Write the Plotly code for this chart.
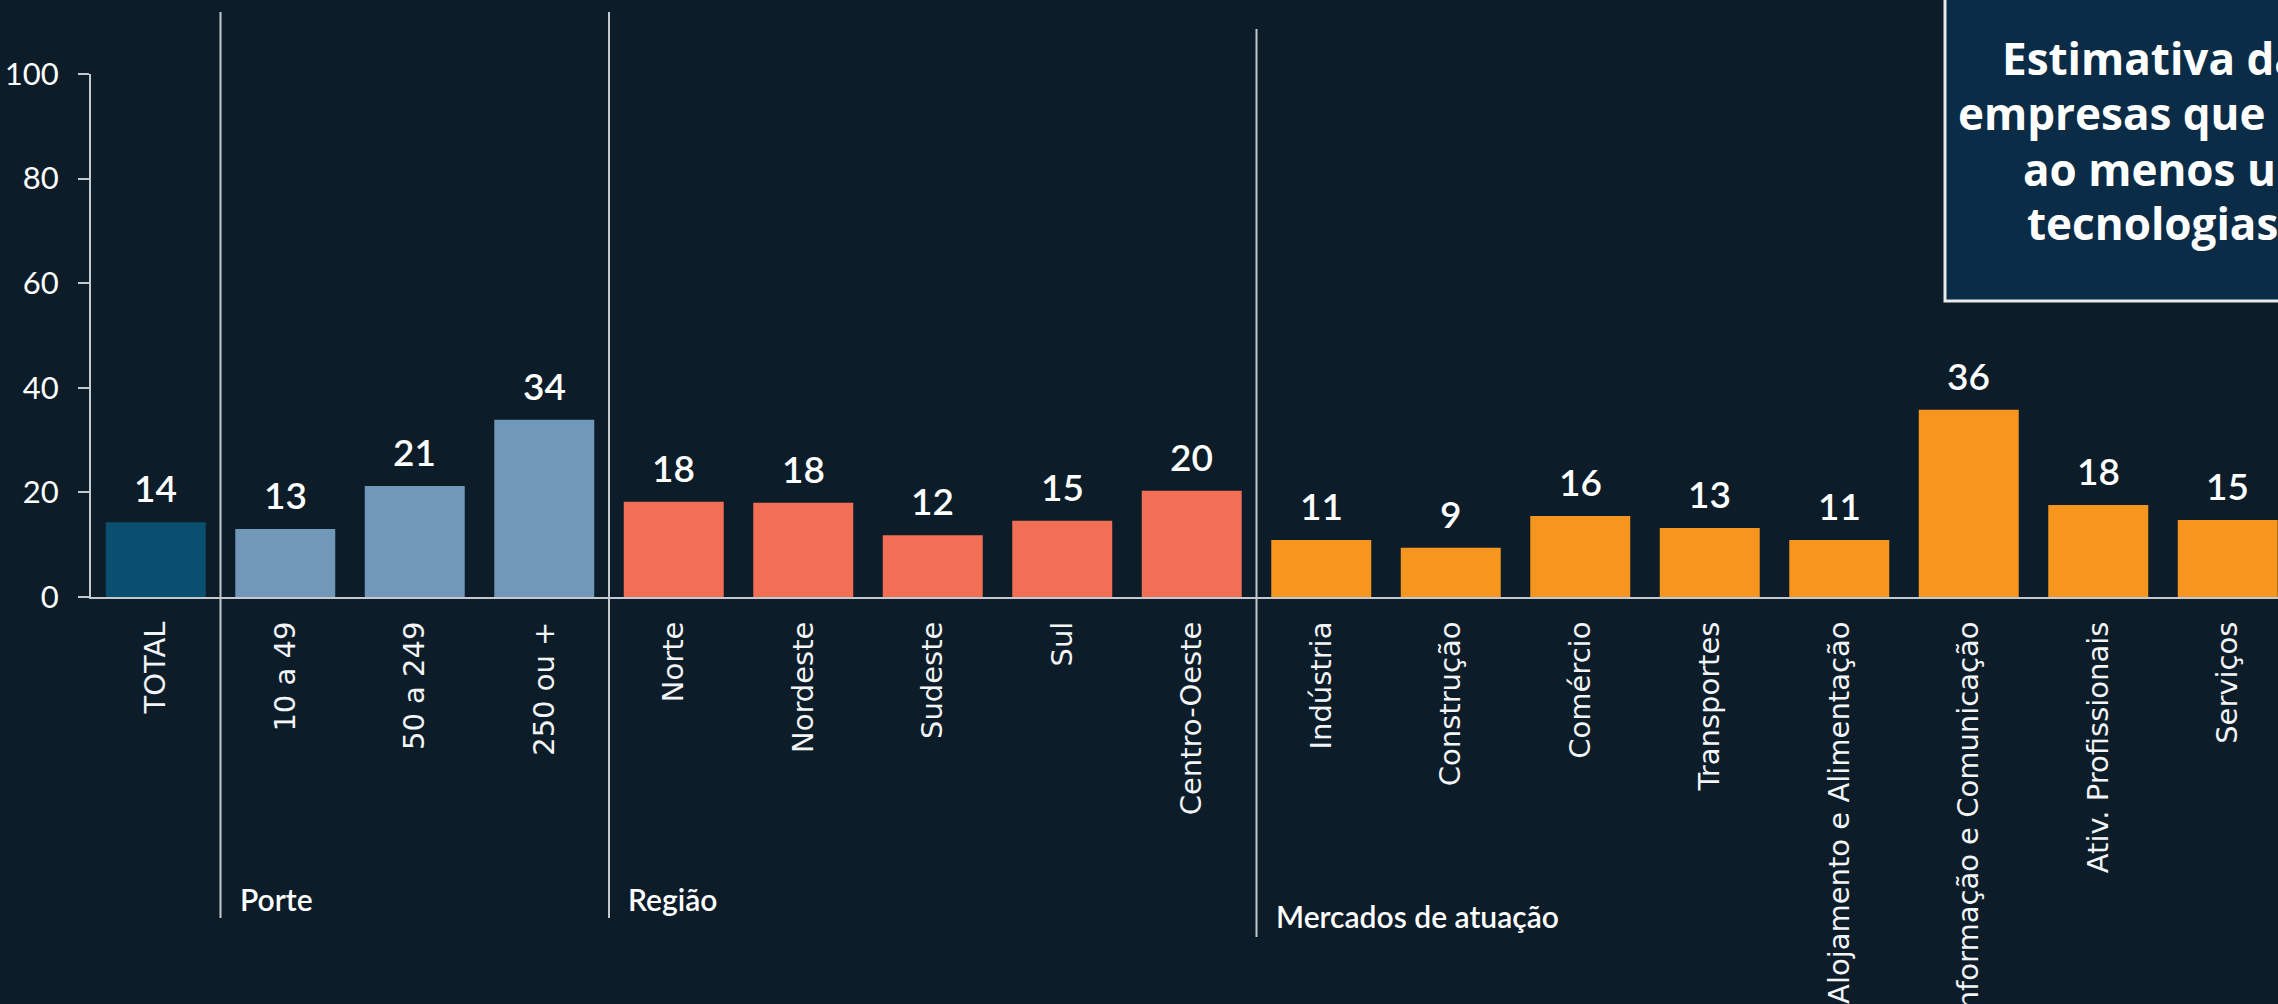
import plotly.graph_objects as go

# ---------------- data ----------------
categories = ["TOTAL", "10 a 49", "50 a 249", "250 ou +",
              "Norte", "Nordeste", "Sudeste", "Sul", "Centro-Oeste",
              "Indústria", "Construção", "Comércio", "Transportes",
              "Alojamento e Alimentação", "Informação e Comunicação",
              "Ativ. Profissionais", "Serviços"]
values = [14.3, 13.0, 21.2, 33.9,
          18.2, 18.0, 11.8, 14.6, 20.3,
          10.9, 9.4, 15.5, 13.2, 10.9, 35.8, 17.6, 14.7]
value_labels = ["14", "13", "21", "34",
                "18", "18", "12", "15", "20",
                "11", "9", "16", "13", "11", "36", "18", "15"]
groups = ["TOTAL"] + ["Porte"] * 3 + ["Região"] * 5 + ["Mercados de atuação"] * 8
group_names = ["Porte", "Região", "Mercados de atuação"]
y_ticks = [0, 20, 40, 60, 80, 100]
title_lines = ["Estimativa da", "empresas que", "ao menos uma", "tecnologias"]

# ---------------- style ----------------
W, H = 2278, 1004
BG = "#0c1c29"
BOX_FILL = "#0a2c47"
LINE_C = "#c3c9cf"
group_colors = {"TOTAL": "#0a4f6f", "Porte": "#7197b9",
                "Região": "#f26f55", "Mercados de atuação": "#f6961f"}
M_L, M_R, M_T, M_B = 91, 0, 74, 407
PLOT_H = H - M_T - M_B
PLOT_W = W - M_L - M_R


def py(px):  # pixel y -> paper y
    return (H - M_B - px) / PLOT_H


def pxx(px):  # pixel x -> paper x
    return (px - M_L) / PLOT_W


fig = go.Figure()
fig.add_trace(go.Bar(
    x=list(range(len(categories))), y=values,
    marker=dict(color=[group_colors[g] for g in groups], line=dict(width=0)),
    hoverinfo="skip", showlegend=False,
))

annotations = []
for i, (v, lab) in enumerate(zip(values, value_labels)):
    annotations.append(dict(
        x=i, y=v, xref="x", yref="y", text=lab, showarrow=False,
        yanchor="bottom", xanchor="center", yshift=10,
        font=dict(family="Lato", size=37, color="white", weight=600)))

# group separators and labels
shapes = []
sep_pos = [groups.index(g) - 0.5 for g in group_names]
sep_extents = [(12, 918), (12, 918), (29, 937)]
label_y = [899, 899, 916]
for b, (t, btm), ly, name in zip(sep_pos, sep_extents, label_y, group_names):
    shapes.append(dict(type="line", xref="x", yref="paper", x0=b, x1=b,
                       y0=py(btm), y1=py(t), line=dict(color=LINE_C, width=2),
                       layer="above"))
    annotations.append(dict(x=b, y=py(ly), xref="x", yref="paper", text=name,
                            showarrow=False, xanchor="left", yanchor="middle",
                            xshift=17,
                            font=dict(family="Lato", size=30, color="white", weight=600)))

# title box (cropped at the right/top edge)
shapes.append(dict(type="rect", xref="paper", yref="paper",
                   x0=pxx(1945), x1=pxx(W + 60), y0=py(301), y1=py(-60),
                   fillcolor=BOX_FILL, line=dict(color="#e8eaec", width=3),
                   layer="above"))
title_left = [2000, 1956, 2021, 2025]
title_cy = [58, 113, 169, 223]
for txt, lx, cy in zip(title_lines, title_left, title_cy):
    annotations.append(dict(x=pxx(lx), y=py(cy), xref="paper", yref="paper",
                            text=txt, showarrow=False, xanchor="left",
                            yanchor="middle", height=56, valign="middle",
                            font=dict(family="Open Sans", size=44, color="white", weight=700)))

fig.update_layout(
    width=W, height=H,
    paper_bgcolor=BG, plot_bgcolor=BG,
    margin=dict(l=M_L, r=M_R, t=M_T, b=M_B, pad=0),
    bargap=0.228,
    shapes=shapes, annotations=annotations,
    showlegend=False,
)
fig.update_xaxes(
    range=[-0.5, -0.5 + PLOT_W / 129.5],
    tickmode="array", tickvals=list(range(len(categories))), ticktext=categories,
    tickangle=-90, ticks="", showgrid=False, zeroline=False,
    showline=True, linecolor=LINE_C, linewidth=2,
    tickfont=dict(family="DejaVu Sans", size=29, color="#f2f4f6"),
    ticklabelstandoff=11, automargin=False,
)
fig.update_yaxes(
    range=[0, 100], tickmode="array", tickvals=y_ticks,
    ticks="outside", ticklen=11, tickwidth=2, tickcolor=LINE_C,
    showline=True, linecolor=LINE_C, linewidth=2,
    showgrid=False, zeroline=False,
    tickfont=dict(family="Lato", size=31, color="white", weight=400),
    ticklabelstandoff=13, automargin=False,
)

fig.write_html("out.html", config={"displayModeBar": False},
               post_script="document.body.style.margin='0px';")
